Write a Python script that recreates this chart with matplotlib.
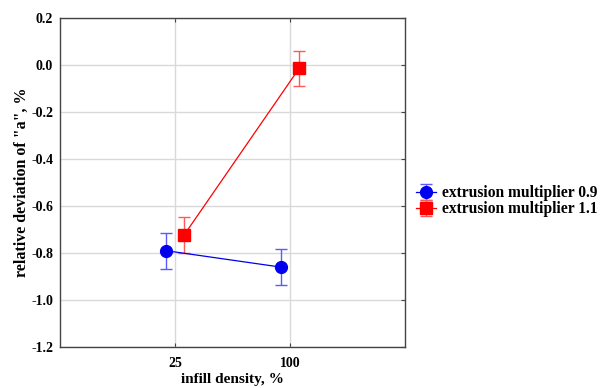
import matplotlib
matplotlib.use("Agg")
import matplotlib.pyplot as plt
import numpy as np

categories = ["25", "100"]
series_names = ["extrusion multiplier 0.9", "extrusion multiplier 1.1"]
means_09 = [-0.79, -0.86]
err_09 = [0.077, 0.076]
means_11 = [-0.723, -0.014]
err_11 = [0.075, 0.075]
yticks = [-1.2, -1.0, -0.8, -0.6, -0.4, -0.2, 0.0, 0.2]
ytick_labels = ["-1.2", "-1.0", "-0.8", "-0.6", "-0.4", "-0.2", "0.0", "0.2"]

plt.rcParams['font.family'] = ['Liberation Serif', 'DejaVu Serif']
plt.rcParams['font.weight'] = 'bold'

fig = plt.figure(figsize=(6.02, 3.88), dpi=100)
ax = fig.add_axes([60/602, 41/388, 345/602, 329/388])

x = np.arange(1, len(categories) + 1)
off = 0.08

ax.errorbar(x - off, means_09, yerr=err_09, color='#0000ee', ecolor='#5a5aff',
            marker='o', markersize=8.5, linewidth=0.9, elinewidth=1.0,
            capsize=4, capthick=1.0, label=series_names[0], zorder=3)
ax.errorbar(x + off, means_11, yerr=err_11, color='#ff0000', ecolor='#ff5a5a',
            marker='s', markersize=8, linewidth=0.9, elinewidth=1.0,
            capsize=4, capthick=1.0, label=series_names[1], zorder=3)

ax.set_xlim(0, 3)
ax.set_ylim(-1.2, 0.2)
ax.set_xticks(x)
ax.set_xticklabels(categories)
ax.set_yticks(yticks)
ax.set_yticklabels(ytick_labels)
ax.grid(True, color='#d9d9d9', linewidth=1.0, zorder=0)
ax.set_axisbelow(True)
ax.tick_params(direction='in', length=3, width=0.8, colors='#444444',
               labelcolor='black', labelsize=10, right=True, top=True,
               left=False)
ax.tick_params(axis='x', pad=7)
ax.tick_params(axis='y', pad=5)
for lbl in ax.get_xticklabels() + ax.get_yticklabels():
    lbl.set_fontweight('bold')
for s in ax.spines.values():
    s.set_color('#444444')
    s.set_linewidth(1.0)

ax.set_xlabel('infill density, %', fontsize=11, fontweight='bold', labelpad=2)
ax.set_ylabel('relative deviation of "a", %', fontsize=11.5, fontweight='bold', labelpad=1)

leg = fig.legend(loc='upper left', bbox_to_anchor=(410/602, 1 - 179/388),
                 frameon=False, fontsize=11.2, handlelength=1.3,
                 handletextpad=0.35, labelspacing=0.0, borderaxespad=0,
                 markerscale=1.0)
for t in leg.get_texts():
    t.set_fontweight('bold')

fig.savefig("out.png", dpi=100)
